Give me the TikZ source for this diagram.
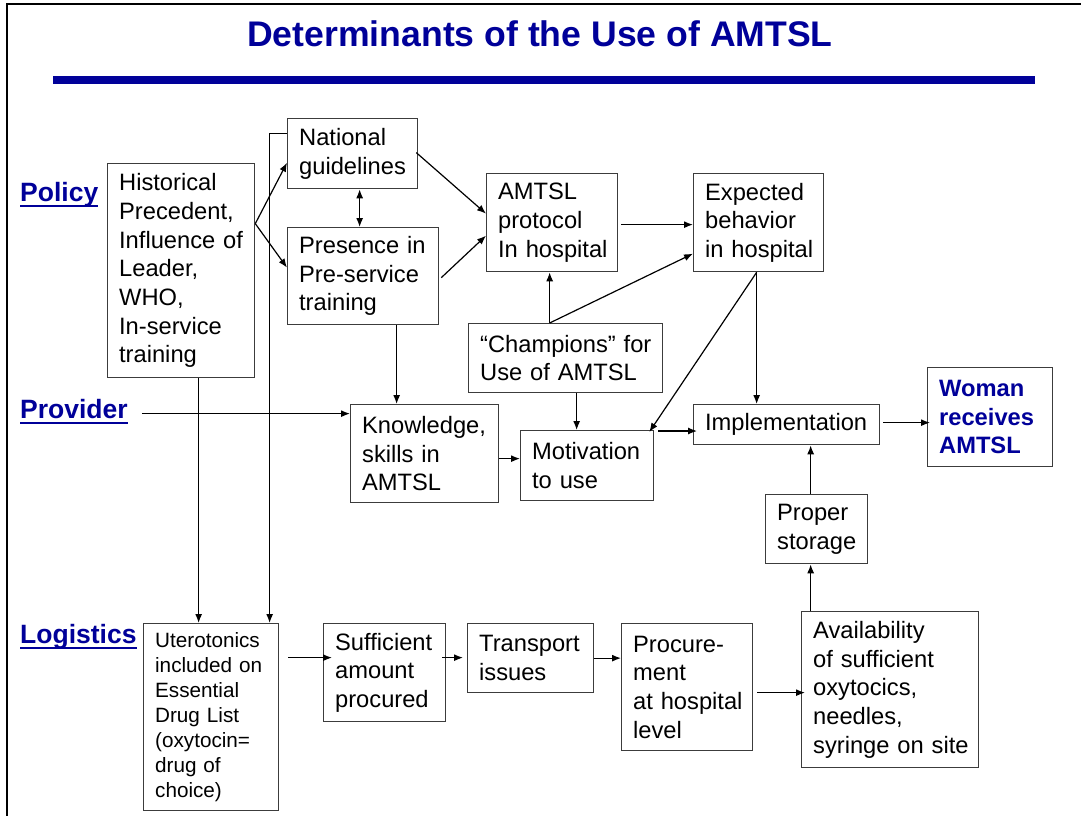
\documentclass[tikz,border=0pt]{standalone}
\usepackage{fontspec}
\setmainfont{Liberation Sans}
\usetikzlibrary{arrows.meta}
\definecolor{navy}{RGB}{0,0,153}
\definecolor{boxc}{RGB}{60,60,60}
\hyphenpenalty=10000
\exhyphenpenalty=10000
\begin{document}
\begin{tikzpicture}[x=1pt,y=-1pt,
  bx/.style={draw=boxc, line width=1.3pt, rectangle, anchor=north west,
    inner xsep=11.5pt, inner ysep=0pt, align=left,
    font=\fontsize{23.7}{28.7}\selectfont},
  smallbx/.style={bx, font=\fontsize{20.7}{25}\selectfont},
  arr/.style={-{Latex[length=9pt,width=7pt]}, line width=1.2pt},
  lab/.style={font=\bfseries\fontsize{26.5}{30}\selectfont, text=navy, inner sep=0pt, anchor=base west},
  uline/.style={navy, line width=2pt}
]
\useasboundingbox (0,0) rectangle (1081,816);
\draw[line width=2pt] (7,816) -- (7,4) -- (1081,4);
\node[font=\bfseries\fontsize{35.6}{40}\selectfont, text=navy, anchor=base, inner sep=0pt] (title) at (540,47) {Determinants of the Use of AMTSL};
\fill[navy] (53,76) rectangle (1035,84);

% side labels
\node[lab] (pol) at (20,201) {Policy};
\node[lab] (prov) at (20,418) {Provider};
\node[lab] (logi) at (20,643) {Logistics};
\draw[uline] ([yshift=-4.5pt]pol.base west) -- ([yshift=-4.5pt]pol.base east);
\draw[uline] ([yshift=-4.5pt]prov.base west) -- ([yshift=-4.5pt]prov.base east);
\draw[uline] ([yshift=-4.5pt]logi.base west) -- ([yshift=-4.5pt]logi.base east);

% boxes
\node[bx, minimum width=147pt, minimum height=214pt, text width=124pt] (hist) at (107,163)
  {Historical\\Precedent,\\Influence~of\\Leader,\\WHO,\\In-service\\training};
\node[bx, minimum width=130pt, minimum height=70pt, text width=107pt] (natl) at (287,118)
  {National\\guidelines};
\node[bx, minimum width=151pt, minimum height=97pt, text width=128pt] (pres) at (287,227)
  {Presence~in\\Pre-service\\training};
\node[bx, minimum width=131pt, minimum height=98pt, text width=108pt] (amtsl) at (486,173)
  {AMTSL\\protocol\\In~hospital};
\node[bx, minimum width=130pt, minimum height=98pt, text width=107pt] (expb) at (693,173)
  {Expected\\behavior\\in~hospital};
\node[bx, minimum width=194pt, minimum height=69pt, text width=171pt] (champ) at (468,323)
  {“Champions”~for\\Use~of~AMTSL};
\node[bx, minimum width=148pt, minimum height=98pt, text width=125pt] (know) at (350,404)
  {Knowledge,\\skills~in\\AMTSL};
\node[bx, minimum width=133pt, minimum height=70pt, text width=110pt] (motiv) at (520,430)
  {Motivation\\to~use};
\node[bx, minimum width=186pt, minimum height=40pt, text width=163pt] (impl) at (693,404)
  {Implementation};
\node[bx, minimum width=125pt, minimum height=99pt, text width=102pt, font=\bfseries\fontsize{23.7}{28.5}\selectfont, text=navy] (woman) at (927,367)
  {Woman\\receives\\AMTSL};
\node[bx, minimum width=102pt, minimum height=69pt, text width=79pt] (stor) at (765,494)
  {Proper\\storage};
\node[bx, minimum width=177pt, minimum height=156pt, text width=154pt] (avail) at (801,611)
  {Availability\\of~sufficient\\oxytocics,\\needles,\\syringe~on~site};
\node[bx, minimum width=131pt, minimum height=127pt, text width=108pt] (proc) at (621,623)
  {Procure-\\ment\\at~hospital\\level};
\node[bx, minimum width=126pt, minimum height=69pt, text width=103pt] (trans) at (467,623)
  {Transport\\issues};
\node[bx, minimum width=122pt, minimum height=98pt, text width=99pt] (suff) at (323,623)
  {Sufficient\\amount\\procured};
\node[smallbx, minimum width=135pt, minimum height=187pt, text width=112pt] (utero) at (143,623)
  {Uterotonics\\included~on\\Essential\\Drug~List\\(oxytocin=\\drug~of\\choice)};

% connectors
\draw[arr] ([yshift=47pt]hist.east) -- ([yshift=-9pt]natl.west);
\draw[arr] ([yshift=47pt]hist.east) -- ([yshift=8.5pt]pres.west);
\draw[{Latex[length=9pt,width=7pt]}-{Latex[length=9pt,width=7pt]}, line width=1.2pt]
  ([xshift=7pt]natl.south) -- ([xshift=7pt]natl.south |- pres.north);
\draw[arr] ([yshift=20pt]natl.west) -| ([xshift=58.5pt]utero.north);
\draw[arr] ([xshift=17.5pt]hist.south) -- ([xshift=17.5pt]hist.south |- utero.north);
\draw[arr] ([xshift=33.5pt]pres.south) -- ([xshift=33.5pt]pres.south |- know.north);
\draw[arr] ([xshift=-2pt,yshift=1pt]natl.east) -- ([yshift=9pt]amtsl.west);
\draw[arr] ([xshift=2pt,yshift=-1.5pt]pres.east) -- ([yshift=-13pt]amtsl.west);
\draw[arr] ([xshift=3pt,yshift=-2pt]amtsl.east) -- ([yshift=-2pt]expb.west);
\draw[arr] ([xshift=-16pt]champ.north) -- ([xshift=-16pt]champ.north |- amtsl.south);
\draw[arr] ([xshift=-16pt]champ.north) -- ([yshift=-31pt]expb.west);
\draw[arr] ([xshift=11pt]champ.south) -- ([xshift=11pt]champ.south |- motiv.north);
\draw[arr] ([xshift=-2pt]expb.south) -- ([xshift=-2pt]expb.south |- impl.north);
\draw[arr] ([xshift=-2pt]expb.south) -- ([xshift=-5pt,yshift=-2pt]motiv.north east);
\draw[arr] ([yshift=-5pt]know.east) -- ([yshift=-5pt]know.east -| motiv.west);
\draw[arr] ([xshift=4pt,yshift=-1pt]motiv.north east) -- ([xshift=4pt,yshift=-1pt]motiv.north east -| impl.west);
\draw[arr] ([xshift=3pt,yshift=2pt]impl.east) -- ([xshift=3pt,yshift=2pt]impl.east -| woman.west);
\draw[arr] ([xshift=-6pt]stor.north) -- ([xshift=-6pt]stor.north |- impl.south);
\draw[arr] ([xshift=-6pt]stor.south |- avail.north) -- ([xshift=-6pt]stor.south);
\draw[arr] ([xshift=4pt,yshift=-5.5pt]proc.east) -- ([xshift=4pt,yshift=-5.5pt]proc.east -| avail.west);
\draw[arr] (trans.east) -- (trans.east -| proc.west);
\draw[arr] ([xshift=-4pt,yshift=15pt]suff.east) -- ([xshift=-4pt,yshift=15pt]suff.east -| trans.west);
\draw[arr] ([xshift=9pt,yshift=59.5pt]utero.east) -- ([xshift=9pt,yshift=59.5pt]utero.east -| suff.west);
\coordinate (kw) at ([yshift=40pt]know.west);
\draw[arr] ([xshift=14pt]prov.east |- kw) -- (kw);
\end{tikzpicture}
\end{document}
